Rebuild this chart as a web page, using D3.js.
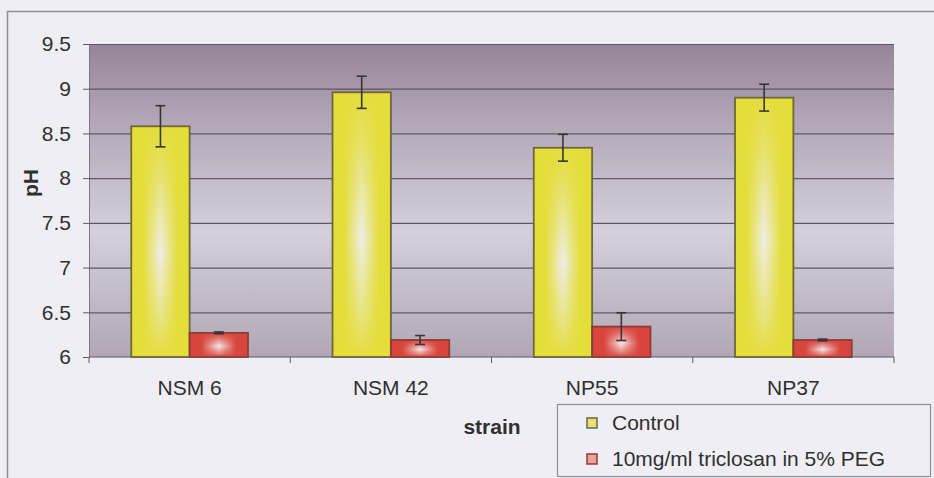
<!DOCTYPE html>
<html>
<head>
<meta charset="utf-8">
<script src="https://cdn.jsdelivr.net/npm/d3@7"></script>
<style>
  html, body { margin: 0; padding: 0; background: #efeef5; }
  svg { display: block; }
  text { font-family: "Liberation Sans", Arial, sans-serif; fill: #303030; }
</style>
</head>
<body>
<svg id="chart" width="934" height="478"></svg>
<script>
// pH per strain, control vs. triclosan-treated, with error bars
const categories = ["NSM 6", "NSM 42", "NP55", "NP37"];
const seriesNames = ["Control", "10mg/ml triclosan in 5% PEG"];
const controlValues = [8.58, 8.96, 8.34, 8.90];
const controlErrors = [0.23, 0.18, 0.15, 0.15];
const treatedValues = [6.27, 6.19, 6.34, 6.19];
const treatedErrors = [0.01, 0.05, 0.155, 0.01];
const yTicks = [6, 6.5, 7, 7.5, 8, 8.5, 9, 9.5];

const svg = d3.select("#chart");
const plot = { left: 89, right: 894, top: 44, bottom: 357 };
const fontSize = 21;

const defs = svg.append("defs");

// plot-area background: mauve at the top fading to pale lavender
const bg = defs.append("linearGradient").attr("id", "plotBg")
  .attr("x1", 0).attr("y1", 0).attr("x2", 0).attr("y2", 1);
[[0, "#958597"], [0.25, "#b3a7b7"], [0.6, "#d4d0dc"], [1, "#b2a6b5"]]
  .forEach(([o, c]) => bg.append("stop").attr("offset", o).attr("stop-color", c));

// bar fills: coloured edges, pale centre
function barGradients(id, edge, centre) {
  const h = defs.append("linearGradient").attr("id", id + "H")
    .attr("x1", 0).attr("y1", 0).attr("x2", 1).attr("y2", 0);
  [[0, edge], [0.2, edge], [0.5, centre], [0.8, edge], [1, edge]]
    .forEach(([o, c]) => h.append("stop").attr("offset", o).attr("stop-color", c));
  const v = defs.append("linearGradient").attr("id", id + "V")
    .attr("x1", 0).attr("y1", 0).attr("x2", 0).attr("y2", 1);
  [[0, edge, 1], [0.2, edge, 0.7], [0.55, edge, 0], [0.85, edge, 0.6], [1, edge, 1]]
    .forEach(([o, c, a]) => v.append("stop").attr("offset", o)
      .attr("stop-color", c).attr("stop-opacity", a));
}
barGradients("ctl", "#e4dd3a", "#efeee8");
barGradients("trt", "#d8453c", "#f7e6e8");

// outer chart frame
svg.append("rect")
  .attr("x", 7.5).attr("y", 11.5).attr("width", 960).attr("height", 500)
  .attr("fill", "none").attr("stroke", "#8e8e96").attr("stroke-width", 1.5);

const x = d3.scaleBand().domain(categories)
  .range([plot.left, plot.right]).paddingInner(0.42).paddingOuter(0.21);
const xs = d3.scaleBand().domain(seriesNames).range([0, x.bandwidth()]);
const y = d3.scaleLinear().domain([6, 9.5]).range([plot.bottom, plot.top]);

svg.append("rect")
  .attr("x", plot.left).attr("y", plot.top)
  .attr("width", plot.right - plot.left).attr("height", plot.bottom - plot.top)
  .attr("fill", "url(#plotBg)");

// y axis with gridlines
const yAxis = svg.append("g").attr("transform", `translate(${plot.left},0)`)
  .call(d3.axisLeft(y).tickValues(yTicks).tickFormat(d => String(d))
    .tickSize(6).tickPadding(12));
yAxis.select(".domain").attr("stroke", "#807486");
yAxis.selectAll(".tick line").attr("stroke", "#5f5863");
yAxis.selectAll(".tick text").attr("font-size", fontSize).attr("fill", "#303030");
yAxis.selectAll(".tick").filter(d => d > 6).append("line")
  .attr("x1", 0).attr("x2", plot.right - plot.left)
  .attr("stroke", "#5f5863").attr("stroke-width", 1.2);

// x axis: ticks at category boundaries
const xAxis = svg.append("g").attr("transform", `translate(0,${plot.bottom})`);
xAxis.append("line").attr("x1", plot.left).attr("x2", plot.right)
  .attr("stroke", "#5f5863");
const boundaries = categories.map(c => x(c) - x.step() * x.paddingInner() / 2)
  .concat([plot.right]);
xAxis.selectAll("line.tk").data(boundaries).join("line").attr("class", "tk")
  .attr("x1", d => d).attr("x2", d => d).attr("y1", 0).attr("y2", 6)
  .attr("stroke", "#5f5863");
xAxis.selectAll("text").data(categories).join("text")
  .attr("x", d => x(d) + x.bandwidth() / 2).attr("y", 38)
  .attr("text-anchor", "middle").attr("font-size", fontSize).text(d => d);

// bars
const rows = categories.map((c, i) => [
  { cat: c, s: seriesNames[0], v: controlValues[i], e: controlErrors[i], fill: "ctl", stroke: "#6c683c" },
  { cat: c, s: seriesNames[1], v: treatedValues[i], e: treatedErrors[i], fill: "trt", stroke: "#8a3f36" }
]).flat();

const bars = svg.append("g").selectAll("g").data(rows).join("g")
  .attr("transform", d => `translate(${x(d.cat) + xs(d.s)},${y(d.v)})`);
bars.append("rect")
  .attr("width", xs.bandwidth()).attr("height", d => y(6) - y(d.v))
  .attr("fill", d => `url(#${d.fill}H)`);
bars.append("rect")
  .attr("width", xs.bandwidth()).attr("height", d => y(6) - y(d.v))
  .attr("fill", d => `url(#${d.fill}V)`)
  .attr("stroke", d => d.stroke).attr("stroke-width", 1.8);

// error bars
const err = svg.append("g").attr("stroke", "#3a3438").attr("stroke-width", 1.6);
rows.forEach(d => {
  const cx = x(d.cat) + xs(d.s) + xs.bandwidth() / 2;
  const y1 = y(d.v + d.e), y2 = y(d.v - d.e);
  err.append("line").attr("x1", cx).attr("x2", cx).attr("y1", y1).attr("y2", y2);
  err.append("line").attr("x1", cx - 5).attr("x2", cx + 5).attr("y1", y1).attr("y2", y1);
  err.append("line").attr("x1", cx - 5).attr("x2", cx + 5).attr("y1", y2).attr("y2", y2);
});

// axis titles
svg.append("text").attr("x", 492).attr("y", 434).attr("text-anchor", "middle")
  .attr("font-size", fontSize).attr("font-weight", "bold").text("strain");
svg.append("text")
  .attr("transform", "translate(38,183) rotate(-90)")
  .attr("text-anchor", "middle").attr("font-size", fontSize).attr("font-weight", "bold")
  .text("pH");

// legend
const legend = svg.append("g");
legend.append("rect").attr("x", 557.5).attr("y", 404.5).attr("width", 373).attr("height", 72)
  .attr("fill", "#efeef5").attr("stroke", "#8e8e96").attr("stroke-width", 1.2);
const legendItems = [
  { name: seriesNames[0], fill: "#e6e07a", stroke: "#6c683c" },
  { name: seriesNames[1], fill: "#eda0a0", stroke: "#8a3f36" }
];
const li = legend.selectAll("g").data(legendItems).join("g")
  .attr("transform", (d, i) => `translate(592,${423 + i * 36})`);
li.append("rect").attr("x", -5).attr("y", -5).attr("width", 10).attr("height", 10)
  .attr("fill", d => d.fill).attr("stroke", d => d.stroke).attr("stroke-width", 1.5);
li.append("text").attr("x", 20).attr("y", 7).attr("font-size", fontSize).text(d => d.name);
</script>
</body>
</html>
